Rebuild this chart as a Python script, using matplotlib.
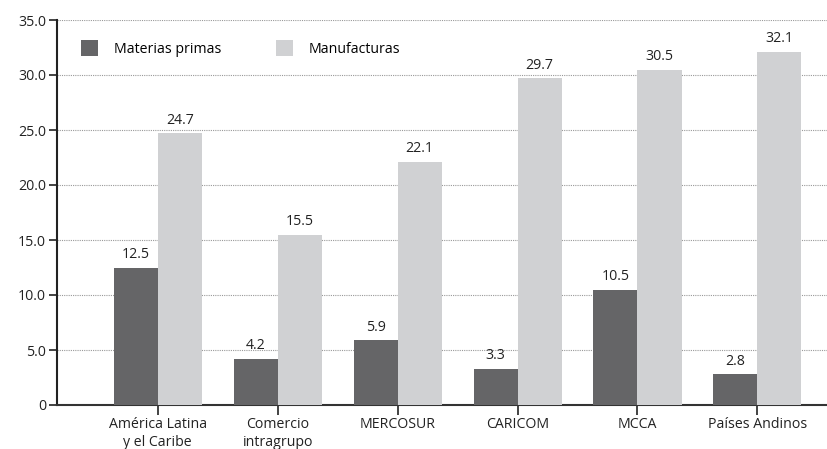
import matplotlib
matplotlib.use("Agg")
import matplotlib.pyplot as plt
import numpy as np

categories = ["América Latina\ny el Caribe", "Comercio\nintragrupo", "MERCOSUR",
              "CARICOM", "MCCA", "Países Andinos"]
materias_primas = [12.5, 4.2, 5.9, 3.3, 10.5, 2.8]
manufacturas = [24.7, 15.5, 22.1, 29.7, 30.5, 32.1]
yticks = [0, 5, 10, 15, 20, 25, 30, 35]
ytick_labels = ["0", "5.0", "10.0", "15.0", "20.0", "25.0", "30.0", "35.0"]

plt.rcParams['font.family'] = ['Open Sans', 'DejaVu Sans']

W, H = 827, 449
fig = plt.figure(figsize=(W / 100, H / 100), dpi=100)
ax = fig.add_axes([57 / W, 44 / H, (W - 57) / W, 385 / H])

dark = "#656567"
light = "#d0d1d3"
x = np.arange(len(categories))
bw = 0.367
b1 = ax.bar(x - bw / 2, materias_primas, bw, color=dark, label="Materias primas", zorder=3)
b2 = ax.bar(x + bw / 2, manufacturas, bw, color=light, label="Manufacturas", zorder=3)

for bars, vals in ((b1, materias_primas), (b2, manufacturas)):
    for r, v in zip(bars, vals):
        ax.annotate(f"{v:.1f}", (r.get_x() + r.get_width() / 2, v),
                    xytext=(0, 4), textcoords="offset points",
                    ha="center", va="bottom", fontsize=10.2, color="#222222")

ax.set_xlim(-0.84, 5.58)
ax.set_ylim(0, 35)
ax.set_yticks(yticks)
ax.set_yticklabels(ytick_labels)
ax.set_xticks(x)
ax.set_xticklabels(categories)
ax.yaxis.grid(True, linestyle=(0, (1, 1)), color="#999999", linewidth=0.8, zorder=0)
ax.set_axisbelow(True)

for s in ("top", "right"):
    ax.spines[s].set_visible(False)
ax.spines["left"].set_linewidth(1.5)
ax.spines["bottom"].set_linewidth(1.5)
ax.spines["left"].set_color("#222222")
ax.spines["bottom"].set_color("#333333")
ax.tick_params(axis="y", length=6, width=1.2, labelsize=10.2, colors="#222222", pad=2)
ax.tick_params(axis="x", length=7, width=1.2, labelsize=10.2, colors="#222222", pad=2)

ax.legend(loc="upper left", bbox_to_anchor=(0.024, 0.962), ncol=2, frameon=False,
          fontsize=10.2, handlelength=1.2, handleheight=1.3, handletextpad=1.1,
          columnspacing=3.9, borderaxespad=0)

fig.savefig("out.png", dpi=100)
